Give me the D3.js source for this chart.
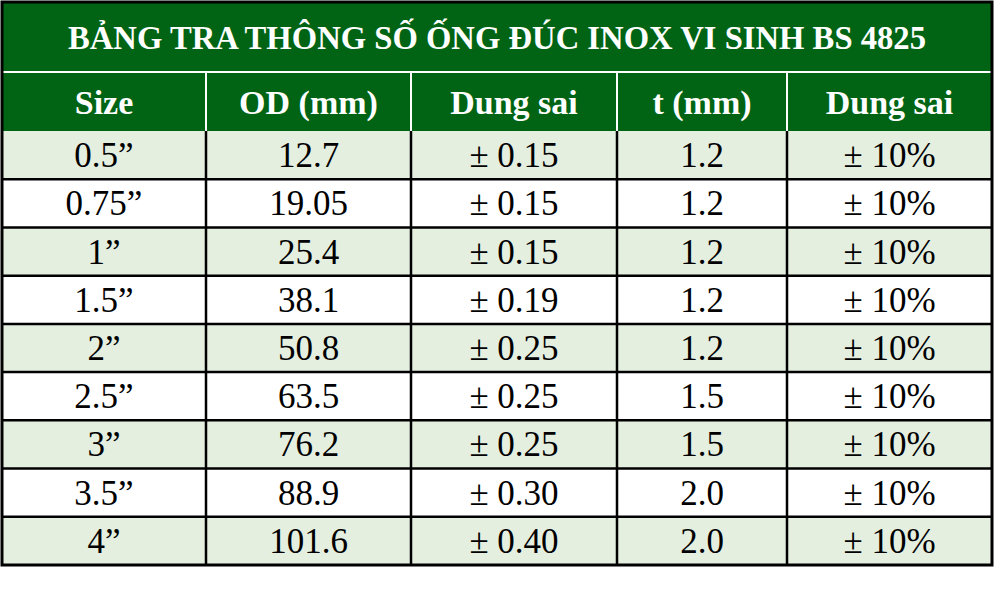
<!DOCTYPE html>
<html lang="vi">
<head>
<meta charset="UTF-8">
<script src="https://d3js.org/d3.v7.min.js"></script>
<style>
  body { margin: 0; background: #fff; }
  text { font-family: "Liberation Serif", "DejaVu Serif", serif; }
</style>
</head>
<body>
<div id="chart"></div>
<script>
var title = "BẢNG TRA THÔNG SỐ ỐNG ĐÚC INOX VI SINH BS 4825";
var headers = ["Size", "OD (mm)", "Dung sai", "t (mm)", "Dung sai"];
var sizes = ["0.5”", "0.75”", "1”", "1.5”", "2”", "2.5”", "3”", "3.5”", "4”"];
var od = ["12.7", "19.05", "25.4", "38.1", "50.8", "63.5", "76.2", "88.9", "101.6"];
var odTol = ["± 0.15", "± 0.15", "± 0.15", "± 0.19", "± 0.25", "± 0.25", "± 0.25", "± 0.30", "± 0.40"];
var thick = ["1.2", "1.2", "1.2", "1.2", "1.2", "1.5", "1.5", "2.0", "2.0"];
var tTol = ["± 10%", "± 10%", "± 10%", "± 10%", "± 10%", "± 10%", "± 10%", "± 10%", "± 10%"];

var width = 994, height = 614;
var left = 2, right = 992, tableTop = 2, titleBottom = 72, headBottom = 131, bottom = 565;
var colEdges = [left, 206, 411, 617, 787, right];
var green = "#006414";

var svg = d3.select("#chart").append("svg")
    .attr("width", width).attr("height", height);

var rows = sizes.map(function (s, i) { return [s, od[i], odTol[i], thick[i], tTol[i]]; });

var y = d3.scaleBand().domain(d3.range(rows.length)).range([headBottom, bottom]);

// title
svg.append("rect").attr("x", left).attr("y", tableTop)
    .attr("width", right - left).attr("height", headBottom - tableTop).attr("fill", green);
svg.append("text").attr("x", (left + right) / 2).attr("y", (tableTop + titleBottom) / 2 + 12)
    .attr("text-anchor", "middle").attr("fill", "#fff").attr("font-weight", "bold")
    .attr("font-size", 34).attr("textLength", 858).attr("lengthAdjust", "spacingAndGlyphs").text(title);
svg.append("line").attr("x1", left).attr("x2", right)
    .attr("y1", titleBottom).attr("y2", titleBottom).attr("stroke", "#fff").attr("stroke-width", 2);

// header
headers.forEach(function (h, j) {
    svg.append("text").attr("x", (colEdges[j] + colEdges[j + 1]) / 2)
        .attr("y", (titleBottom + headBottom) / 2 + 12)
        .attr("text-anchor", "middle").attr("fill", "#fff").attr("font-weight", "bold")
        .attr("font-size", 34).text(h);
    if (j > 0) svg.append("line").attr("x1", colEdges[j]).attr("x2", colEdges[j])
        .attr("y1", titleBottom).attr("y2", headBottom).attr("stroke", "#fff").attr("stroke-width", 2);
});

// body rows
var g = svg.selectAll("g.row").data(rows).enter().append("g").attr("class", "row");
g.append("rect").attr("x", left).attr("y", function (d, i) { return y(i); })
    .attr("width", right - left).attr("height", y.bandwidth())
    .attr("fill", function (d, i) { return i % 2 === 0 ? "#e4efe0" : "#ffffff"; });
g.selectAll("text").data(function (d, i) { return d.map(function (v) { return { v: v, i: i }; }); })
    .enter().append("text")
    .attr("x", function (d, j) { return (colEdges[j] + colEdges[j + 1]) / 2; })
    .attr("y", function (d) { return y(d.i) + y.bandwidth() / 2 + 12; })
    .attr("text-anchor", "middle").attr("fill", "#000").attr("font-size", 35)
    .text(function (d) { return d.v; });

// grid lines
d3.range(1, rows.length).forEach(function (i) {
    svg.append("line").attr("x1", left).attr("x2", right).attr("y1", y(i)).attr("y2", y(i))
        .attr("stroke", "#000").attr("stroke-width", 2.5);
});
colEdges.slice(1, -1).forEach(function (x) {
    svg.append("line").attr("x1", x).attr("x2", x).attr("y1", headBottom).attr("y2", bottom)
        .attr("stroke", "#000").attr("stroke-width", 2.5);
});
svg.append("rect").attr("x", left).attr("y", tableTop).attr("width", right - left).attr("height", bottom - tableTop)
    .attr("fill", "none").attr("stroke", "#000").attr("stroke-width", 3);
</script>
</body>
</html>
